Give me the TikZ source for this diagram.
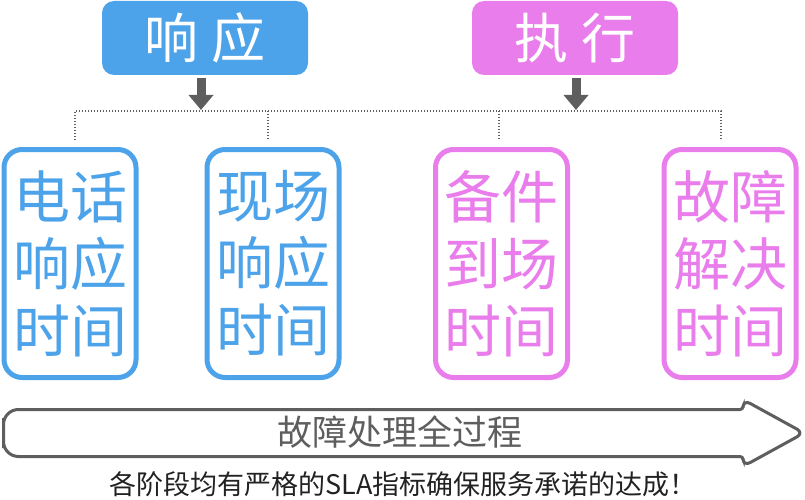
\documentclass[tikz,border=0pt]{standalone}
\usepackage{fontspec}
\usetikzlibrary{arrows.meta}
\newfontfamily\cjk{Noto Sans CJK SC}
\definecolor{sblue}{HTML}{4DA3E9}
\definecolor{spink}{HTML}{EA7DEC}
\definecolor{sgray}{HTML}{5E5E5E}
\definecolor{stext}{HTML}{222222}
\begin{document}
\begin{tikzpicture}[x=1pt,y=-1pt,
  headbox/.style={rounded corners=12pt, minimum width=206pt, minimum height=74pt,
    inner sep=0pt, text=white, font=\cjk\fontsize{54}{60}\selectfont},
  timebox/.style={draw, line width=5pt, rounded corners=18pt, minimum width=132pt,
    minimum height=228pt, inner sep=0pt, align=center,
    font=\cjk\fontsize{57}{67}\selectfont},
  downarrow/.style={sgray, line width=9pt, shorten <=3pt,
    -{Triangle[width=24pt,length=15pt]}},
  dotline/.style={sgray, line width=1.3pt, dash pattern=on 1.3pt off 1.7pt},
  ]
\useasboundingbox (0,0) rectangle (805,500);
% header boxes
\node[headbox, fill=sblue] (resp) at (205,38) {响\hspace{14pt}应};
\node[headbox, fill=spink] (exec) at (575,38) {执\hspace{14pt}行};
% junction coordinates
\coordinate (d1) at (75,111);
\coordinate (d2) at (268,111);
\coordinate (d3) at (499,111);
\coordinate (d4) at (721,111);
\coordinate (e1) at (75,140);
\coordinate (e2) at (268,140);
\coordinate (e3) at (499,140);
\coordinate (e4) at (721,140);
\coordinate (ra) at (201,110);
\coordinate (xa) at (576,110);
% down arrows
\draw[downarrow] (resp.south -| ra) -- (ra);
\draw[downarrow] (exec.south -| xa) -- (xa);
% dotted connectors
\draw[dotline] (e1) -- (d1) -- (d4) -- (e4);
\draw[dotline] (d2) -- (e2);
\draw[dotline] (d3) -- (e3);
% time boxes
\node[timebox, draw=sblue, text=sblue] (b1) at (70,263.5) {电话\\响应\\时间};
\node[timebox, draw=sblue, text=sblue] (b2) at (273,263.5) {现场\\响应\\时间};
\node[timebox, draw=spink, text=spink] (b3) at (501.5,263.5) {备件\\到场\\时间};
\node[timebox, draw=spink, text=spink] (b4) at (730,263.5) {故障\\解决\\时间};
% big process arrow
\draw[sgray, line width=3pt, fill=white]
  (3.5,433) [rounded corners=15pt] -- (3.5,409.5)
  [rounded corners=3pt] -- (743,409.5)
  [rounded corners=8pt] -- (743,399.5) -- (804,433) -- (743,466.5)
  [rounded corners=3pt] -- (743,456.5)
  [rounded corners=15pt] -- (3.5,456.5) -- cycle;
\node[font=\cjk\fontsize{35}{40}\selectfont, text=sgray] (proc) at (400,432) {故障处理全过程};
\node[font=\cjk\fontsize{27}{30}\selectfont, text=stext] (note) at (403,484) {各阶段均有严格的SLA指标确保服务承诺的达成！};
\end{tikzpicture}
\end{document}
